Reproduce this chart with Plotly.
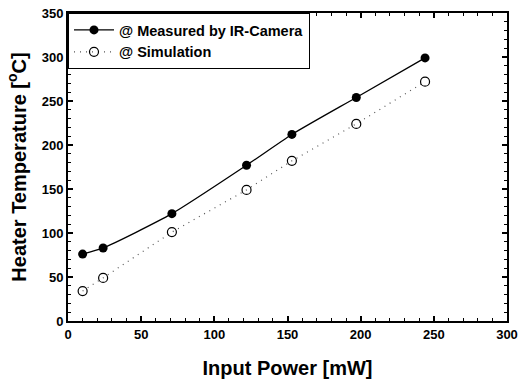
import plotly.graph_objects as go

power_measured = [10, 24, 71, 122, 153, 197, 244]
temp_measured = [76, 83, 122, 177, 212, 254, 299]
power_sim = [10, 24, 71, 122, 153, 197, 244]
temp_sim = [34, 49, 101, 149, 182, 224, 272]

font = "Liberation Sans, Arial, sans-serif"

fig = go.Figure()
fig.add_trace(go.Scatter(
    x=power_measured, y=temp_measured, mode="lines+markers",
    name="<b>@ Measured by IR-Camera</b>",
    line=dict(color="black", width=1.3, shape="spline", smoothing=0.6),
    marker=dict(symbol="circle", size=9, color="black"),
))
fig.add_trace(go.Scatter(
    x=power_sim, y=temp_sim, mode="lines+markers",
    name="<b>@ Simulation</b>",
    line=dict(color="#555555", width=1.2, dash="1px,5px"),
    marker=dict(symbol="circle-open", size=9, color="black", line=dict(width=1.2)),
))

axis_common = dict(
    showgrid=False, zeroline=False, showline=True, linecolor="black", linewidth=2,
    mirror="ticks", ticks="inside", ticklen=5, tickwidth=1.5, tickcolor="black",
    tickfont=dict(family=font, size=13, color="black", weight="bold"),
)

fig.update_layout(
    width=519, height=380,
    margin=dict(l=68, r=12, t=13, b=59),
    paper_bgcolor="white", plot_bgcolor="white",
    font=dict(family=font, color="black"),
    showlegend=True,
    legend=dict(
        x=0, y=1, xanchor="left", yanchor="top",
        bgcolor="white", bordercolor="black", borderwidth=1,
        font=dict(family=font, size=14.5, color="black"),
        tracegroupgap=0, itemwidth=40,
    ),
    xaxis=dict(
        range=[0, 300], dtick=50,
        title=dict(text="<b>Input Power [mW]</b>", font=dict(family=font, size=20), standoff=20),
        minor=dict(dtick=10, ticks="inside", ticklen=3, tickwidth=1, tickcolor="black"),
        automargin=False,
        **axis_common,
    ),
    yaxis=dict(
        range=[0, 350], dtick=50,
        title=dict(text="<b>Heater Temperature [<sup>o</sup>C]</b>", font=dict(family=font, size=20), standoff=10),
        minor=dict(dtick=10, ticks="inside", ticklen=3, tickwidth=1, tickcolor="black"),
        automargin=False,
        **axis_common,
    ),
)

fig.write_html("out.html")
